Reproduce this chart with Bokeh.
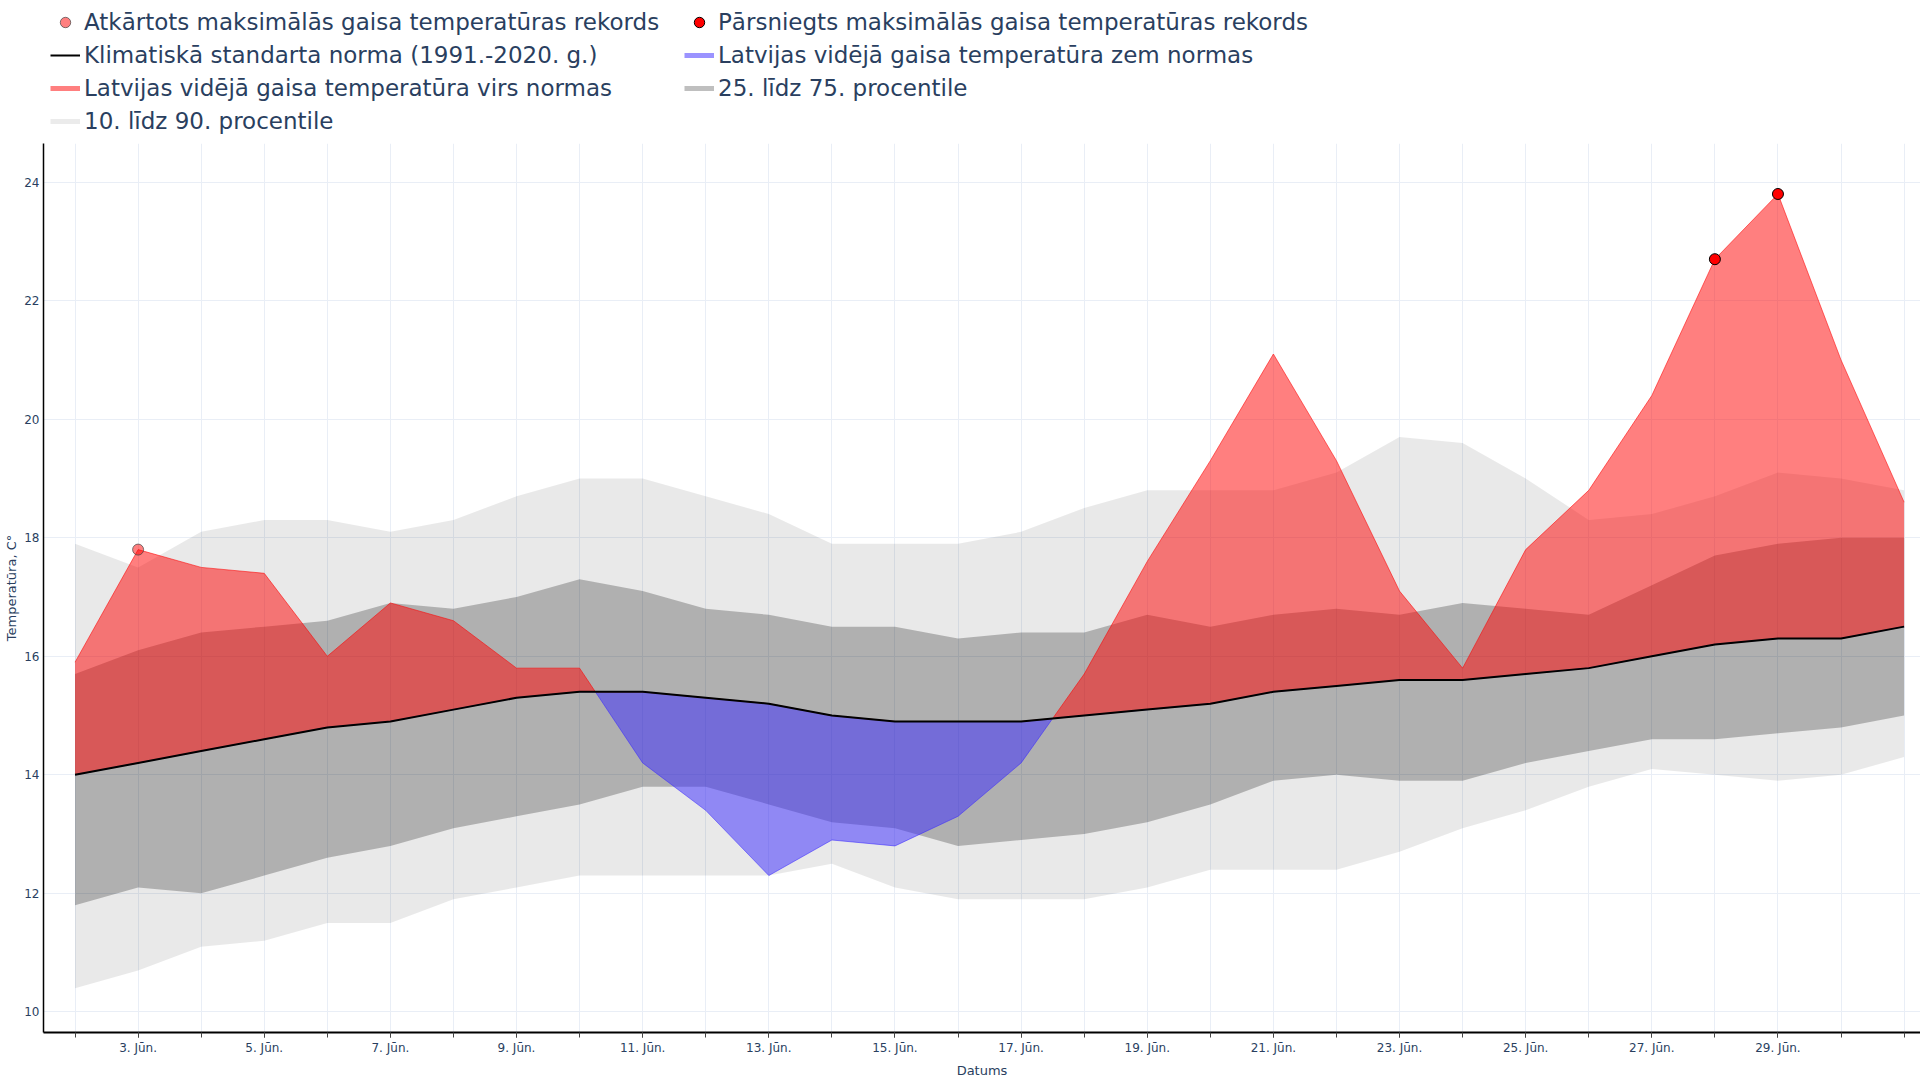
from bokeh.plotting import figure
from bokeh.models import Range1d, FixedTicker, Legend, LegendItem
from bokeh.layouts import column
from bokeh.embed import file_html
from bokeh.resources import INLINE

# ---- data ----
days = list(range(2, 32))
p10 = [10.4, 10.7, 11.1, 11.2, 11.5, 11.5, 11.9, 12.1, 12.3, 12.3, 12.3, 12.3, 12.5, 12.1, 11.9,
       11.9, 11.9, 12.1, 12.4, 12.4, 12.4, 12.7, 13.1, 13.4, 13.8, 14.1, 14.0, 13.9, 14.0, 14.3]
p25 = [11.8, 12.1, 12.0, 12.3, 12.6, 12.8, 13.1, 13.3, 13.5, 13.8, 13.8, 13.5, 13.2, 13.1, 12.8,
       12.9, 13.0, 13.2, 13.5, 13.9, 14.0, 13.9, 13.9, 14.2, 14.4, 14.6, 14.6, 14.7, 14.8, 15.0]
p75 = [15.7, 16.1, 16.4, 16.5, 16.6, 16.9, 16.8, 17.0, 17.3, 17.1, 16.8, 16.7, 16.5, 16.5, 16.3,
       16.4, 16.4, 16.7, 16.5, 16.7, 16.8, 16.7, 16.9, 16.8, 16.7, 17.2, 17.7, 17.9, 18.0, 18.0]
p90 = [17.9, 17.5, 18.1, 18.3, 18.3, 18.1, 18.3, 18.7, 19.0, 19.0, 18.7, 18.4, 17.9, 17.9, 17.9,
       18.1, 18.5, 18.8, 18.8, 18.8, 19.1, 19.7, 19.6, 19.0, 18.3, 18.4, 18.7, 19.1, 19.0, 18.8]
normal = [14.0, 14.2, 14.4, 14.6, 14.8, 14.9, 15.1, 15.3, 15.4, 15.4, 15.3, 15.2, 15.0, 14.9, 14.9,
          14.9, 15.0, 15.1, 15.2, 15.4, 15.5, 15.6, 15.6, 15.7, 15.8, 16.0, 16.2, 16.3, 16.3, 16.5]
actual = [15.9, 17.8, 17.5, 17.4, 16.0, 16.9, 16.6, 15.8, 15.8, 14.2, 13.4, 12.3, 12.9, 12.8, 13.3,
          14.2, 15.7, 17.6, 19.3, 21.1, 19.3, 17.1, 15.8, 17.8, 18.8, 20.4, 22.7, 23.8, 21.0, 18.6]
repeated_days = [3]
repeated_vals = [17.8]
exceeded_days = [28, 29]
exceeded_vals = [22.7, 23.8]
label_days = list(range(3, 30, 2))
tick_labels = [f"{d}. Jūn." for d in label_days]
y_ticks = [10, 12, 14, 16, 18, 20, 22, 24]

TXT = "#2a3f5f"
FONT = "DejaVu Sans"
BLUE = (56, 40, 255)
LEFT = 43

# split actual vs normal at crossings
xs, nr, ar = [], [], []
for i in range(len(days)):
    xs.append(days[i]); nr.append(normal[i]); ar.append(actual[i])
    if i < len(days) - 1:
        d0 = actual[i] - normal[i]
        d1 = actual[i + 1] - normal[i + 1]
        if d0 * d1 < 0:
            t = d0 / (d0 - d1)
            xc = days[i] + t * (days[i + 1] - days[i])
            nc = normal[i] + t * (normal[i + 1] - normal[i])
            xs.append(xc); nr.append(nc); ar.append(nc)
above = [max(a, n) for a, n in zip(ar, nr)]
below = [min(a, n) for a, n in zip(ar, nr)]

# ---- legend figure ----
lf = figure(width=1920, height=143, output_backend="svg", toolbar_location=None,
            x_range=Range1d(0, 1), y_range=Range1d(0, 1),
            x_axis_location=None, y_axis_location=None,
            min_border_left=0, min_border_right=0, min_border_top=0, min_border_bottom=0)
lf.outline_line_color = None
lf.xgrid.visible = False
lf.ygrid.visible = False

OFF = [-10]
r_rep = lf.scatter(OFF, OFF, size=11, fill_color="red", fill_alpha=0.5, line_color="#444444", line_alpha=0.7)
r_exc = lf.scatter(OFF, OFF, size=11, fill_color="red", line_color="black")
r_norm = lf.line([-10, -9], [-10, -10], line_color="black", line_width=2)
r_below = lf.line([-10, -9], [-10, -10], line_color=BLUE, line_alpha=0.5, line_width=5)
r_above = lf.line([-10, -9], [-10, -10], line_color="red", line_alpha=0.5, line_width=5)
r_2575 = lf.line([-10, -9], [-10, -10], line_color="black", line_alpha=0.25, line_width=5)
r_1090 = lf.line([-10, -9], [-10, -10], line_color="black", line_alpha=0.08, line_width=5)


def make_legend(items, loc):
    lg = Legend(items=items, location=loc, orientation="vertical")
    lg.label_text_font = FONT
    lg.label_text_font_size = "23px"
    lg.label_text_color = TXT
    lg.glyph_width = 30
    lg.glyph_height = 26
    lg.label_height = 26
    lg.label_standoff = 4
    lg.spacing = 7
    lg.padding = 0
    lg.margin = 0
    lg.border_line_color = None
    lg.background_fill_alpha = 0
    return lg


leg1 = make_legend([
    LegendItem(label="Atkārtots maksimālās gaisa temperatūras rekords", renderers=[r_rep]),
    LegendItem(label="Klimatiskā standarta norma (1991.-2020. g.)", renderers=[r_norm]),
    LegendItem(label="Latvijas vidējā gaisa temperatūra virs normas", renderers=[r_above]),
    LegendItem(label="10. līdz 90. procentile", renderers=[r_1090]),
], (50 - LEFT, 9))
leg2 = make_legend([
    LegendItem(label="Pārsniegts maksimālās gaisa temperatūras rekords", renderers=[r_exc]),
    LegendItem(label="Latvijas vidējā gaisa temperatūra zem normas", renderers=[r_below]),
    LegendItem(label="25. līdz 75. procentile", renderers=[r_2575]),
], (684 - LEFT, 42))
lf.add_layout(leg1, "center")
lf.add_layout(leg2, "center")

# ---- main figure ----
p = figure(width=1920, height=937, output_backend="svg", toolbar_location=None,
           x_range=Range1d(1.5, 31.26), y_range=Range1d(9.652, 24.652),
           min_border_left=LEFT, min_border_right=0, min_border_top=0, min_border_bottom=48)
p.outline_line_color = None
p.background_fill_color = "white"
p.border_fill_color = "white"

p.varea(x=days, y1=p10, y2=p90, fill_color="black", fill_alpha=0.085)
p.varea(x=days, y1=p25, y2=p75, fill_color="black", fill_alpha=0.245)
p.varea(x=xs, y1=nr, y2=above, fill_color="red", fill_alpha=0.5)
p.varea(x=xs, y1=below, y2=nr, fill_color=BLUE, fill_alpha=0.5)
p.line(xs, above, line_color="red", line_alpha=0.55, line_width=1)
p.line(xs, below, line_color=BLUE, line_alpha=0.55, line_width=1)
p.line(days, normal, line_color="black", line_width=2)
p.scatter(repeated_days, repeated_vals, size=11, fill_color="red", fill_alpha=0.5,
          line_color="#444444", line_alpha=0.7)
p.scatter(exceeded_days, exceeded_vals, size=11, fill_color="red", line_color="black", line_width=1)

# axes
xa = p.xaxis[0]
xa.ticker = FixedTicker(ticks=label_days, minor_ticks=days)
xa.major_label_overrides = {d: lab for d, lab in zip(label_days, tick_labels)}
xa.major_tick_out = 5
xa.major_tick_in = 0
xa.minor_tick_out = 5
xa.minor_tick_in = 0
xa.major_tick_line_color = "#444444"
xa.minor_tick_line_color = "#444444"
xa.axis_line_color = "black"
xa.axis_line_width = 2
xa.major_label_text_font = FONT
xa.major_label_text_font_size = "12px"
xa.major_label_text_color = TXT
xa.major_label_standoff = 3
xa.axis_label = "Datums"
xa.axis_label_text_font = FONT
xa.axis_label_text_font_size = "13px"
xa.axis_label_text_font_style = "normal"
xa.axis_label_text_color = TXT
xa.axis_label_standoff = 5

ya = p.yaxis[0]
ya.ticker = FixedTicker(ticks=y_ticks, minor_ticks=[])
ya.major_tick_out = 0
ya.major_tick_in = 0
ya.minor_tick_out = 0
ya.minor_tick_in = 0
ya.axis_line_color = "black"
ya.axis_line_width = 1.5
ya.major_label_text_font = FONT
ya.major_label_text_font_size = "12px"
ya.major_label_text_color = TXT
ya.major_label_standoff = 4
ya.axis_label = "Temperatūra, C°"
ya.axis_label_text_font = FONT
ya.axis_label_text_font_size = "13px"
ya.axis_label_text_font_style = "normal"
ya.axis_label_text_color = TXT
ya.axis_label_standoff = 2

p.xgrid.ticker = FixedTicker(ticks=days)
p.ygrid.ticker = FixedTicker(ticks=y_ticks)
p.xgrid.grid_line_color = "#E9EEF6"
p.ygrid.grid_line_color = "#E9EEF6"

layout = column(lf, p, spacing=0)
open("out.html", "w").write(file_html(layout, INLINE))
